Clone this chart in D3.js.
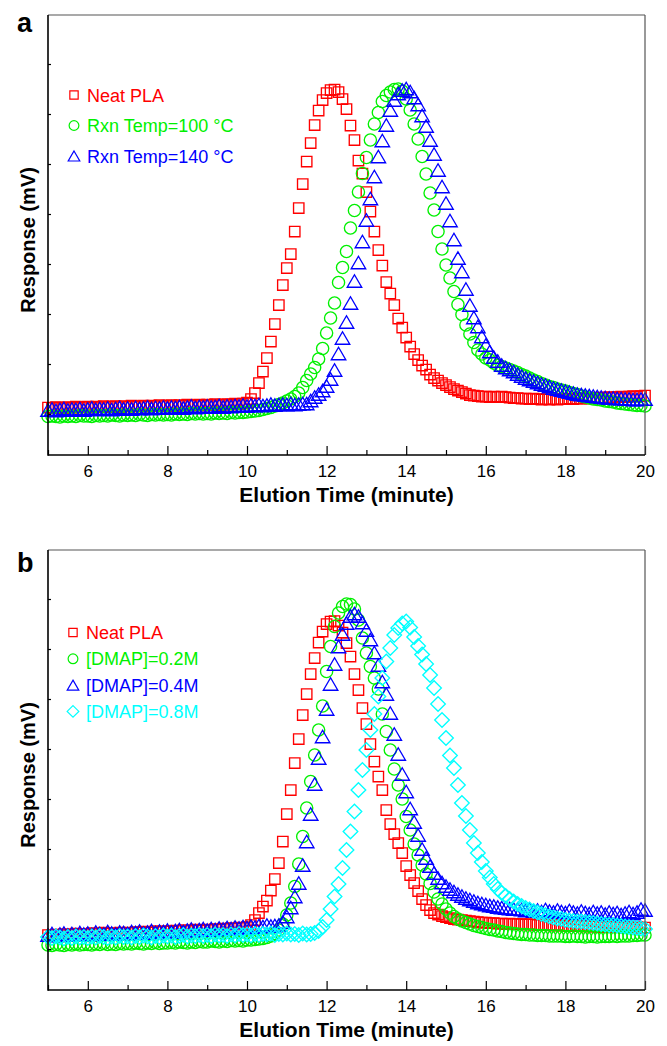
<!DOCTYPE html>
<html><head><meta charset="utf-8">
<script src="https://cdn.jsdelivr.net/npm/d3@7"></script>
<style>body{margin:0;background:#fff}svg{display:block}text{font-family:"Liberation Sans",Arial,Helvetica,sans-serif}</style>
</head><body><svg id="c" width="667" height="1046"></svg>
<script>
// Elution time (minute)
const times = [
5.0,5.1,5.2,5.3,5.4,5.5,5.6,5.7,5.8,5.9,
6.0,6.1,6.2,6.3,6.4,6.5,6.6,6.7,6.8,6.9,
7.0,7.1,7.2,7.3,7.4,7.5,7.6,7.7,7.8,7.9,
8.0,8.1,8.2,8.3,8.4,8.5,8.6,8.7,8.8,8.9,
9.0,9.1,9.2,9.3,9.4,9.5,9.6,9.7,9.8,9.9,
10.0,10.1,10.2,10.3,10.4,10.5,10.6,10.7,10.8,10.9,
11.0,11.1,11.2,11.3,11.4,11.5,11.6,11.7,11.8,11.9,
12.0,12.1,12.2,12.3,12.4,12.5,12.6,12.7,12.8,12.9,
13.0,13.1,13.2,13.3,13.4,13.5,13.6,13.7,13.8,13.9,
14.0,14.1,14.2,14.3,14.4,14.5,14.6,14.7,14.8,14.9,
15.0,15.1,15.2,15.3,15.4,15.5,15.6,15.7,15.8,15.9,
16.0,16.1,16.2,16.3,16.4,16.5,16.6,16.7,16.8,16.9,
17.0,17.1,17.2,17.3,17.4,17.5,17.6,17.7,17.8,17.9,
18.0,18.1,18.2,18.3,18.4,18.5,18.6,18.7,18.8,18.9,
19.0,19.1,19.2,19.3,19.4,19.5,19.6,19.7,19.8,19.9,
20.0];

// Panel a: response (arbitrary mV units)
const aNeatPLA = [
0.13,0.12,0.14,0.13,0.12,0.14,0.13,0.15,0.13,0.14,
0.15,0.13,0.15,0.14,0.16,0.14,0.15,0.16,0.14,0.16,
0.15,0.17,0.15,0.16,0.17,0.15,0.17,0.16,0.18,0.16,
0.17,0.18,0.16,0.18,0.17,0.19,0.17,0.18,0.19,0.17,
0.19,0.18,0.20,0.18,0.19,0.20,0.19,0.21,0.20,0.21,
0.23,0.30,0.42,0.62,0.85,1.12,1.45,1.80,2.18,2.58,
2.92,3.20,3.65,4.12,4.60,5.05,5.42,5.78,6.07,6.28,
6.42,6.48,6.49,6.44,6.30,6.10,5.77,5.48,5.07,4.81,
4.44,4.05,3.65,3.28,2.97,2.64,2.41,2.18,1.91,1.73,
1.53,1.35,1.20,1.08,0.97,0.89,0.79,0.72,0.67,0.62,
0.58,0.54,0.50,0.47,0.44,0.41,0.38,0.37,0.36,0.35,
0.35,0.34,0.35,0.34,0.35,0.34,0.33,0.32,0.32,0.31,
0.31,0.30,0.31,0.30,0.29,0.30,0.29,0.30,0.29,0.30,
0.30,0.31,0.30,0.31,0.31,0.32,0.31,0.32,0.33,0.32,
0.33,0.34,0.33,0.34,0.35,0.34,0.35,0.36,0.35,0.36,
0.37];
const aTemp100 = [
-0.05,-0.04,-0.05,-0.06,-0.04,-0.05,-0.04,-0.05,-0.03,-0.04,
-0.04,-0.05,-0.03,-0.04,-0.03,-0.04,-0.02,-0.03,-0.04,-0.02,
-0.03,-0.02,-0.03,-0.01,-0.02,-0.03,-0.01,-0.02,-0.01,-0.02,
-0.01,-0.02,0.00,-0.01,0.00,-0.01,0.01,0.00,0.01,0.00,
0.01,0.00,0.02,0.01,0.02,0.01,0.03,0.02,0.03,0.03,
0.04,0.05,0.06,0.07,0.09,0.11,0.13,0.16,0.19,0.22,
0.26,0.30,0.35,0.42,0.53,0.67,0.80,0.93,1.10,1.31,
1.62,1.92,2.22,2.63,2.93,3.25,3.72,4.07,4.44,4.81,
5.13,5.48,5.80,6.03,6.25,6.37,6.44,6.49,6.50,6.46,
6.30,6.08,5.80,5.50,5.15,4.80,4.42,4.08,3.65,3.30,
2.98,2.72,2.45,2.19,1.99,1.78,1.60,1.43,1.28,1.20,
1.12,1.08,1.02,0.97,0.95,0.92,0.89,0.86,0.83,0.79,
0.76,0.72,0.68,0.65,0.61,0.58,0.55,0.53,0.50,0.48,
0.46,0.43,0.41,0.39,0.36,0.34,0.32,0.30,0.29,0.28,
0.26,0.25,0.24,0.22,0.21,0.20,0.19,0.18,0.17,0.17,
0.16];
const aTemp140 = [
0.08,0.10,0.07,0.09,0.11,0.08,0.10,0.09,0.11,0.08,
0.10,0.12,0.09,0.11,0.10,0.12,0.09,0.11,0.13,0.10,
0.12,0.10,0.13,0.11,0.12,0.14,0.11,0.13,0.12,0.14,
0.12,0.14,0.13,0.15,0.12,0.14,0.16,0.13,0.15,0.14,
0.16,0.14,0.15,0.17,0.14,0.16,0.15,0.17,0.16,0.18,
0.16,0.18,0.17,0.19,0.17,0.18,0.20,0.18,0.19,0.20,
0.19,0.21,0.19,0.20,0.21,0.21,0.27,0.34,0.40,0.47,
0.56,0.70,0.88,1.21,1.52,1.84,2.22,2.66,3.03,3.45,
3.88,4.31,4.75,5.15,5.47,5.78,6.08,6.28,6.41,6.48,
6.51,6.45,6.33,6.19,5.97,5.76,5.48,5.20,4.88,4.55,
4.22,3.87,3.49,3.12,2.85,2.50,2.18,1.93,1.75,1.55,
1.38,1.25,1.14,1.06,0.98,0.93,0.89,0.85,0.80,0.76,
0.72,0.69,0.66,0.63,0.60,0.58,0.55,0.52,0.50,0.48,
0.46,0.44,0.42,0.40,0.39,0.38,0.37,0.36,0.35,0.34,
0.33,0.32,0.32,0.31,0.31,0.30,0.30,0.29,0.29,0.30,
0.30];

// Panel b
const bNeatPLA = [
0.28,0.27,0.29,0.28,0.30,0.28,0.29,0.31,0.29,0.30,
0.30,0.32,0.30,0.31,0.33,0.31,0.32,0.31,0.33,0.32,
0.33,0.32,0.34,0.33,0.35,0.33,0.34,0.36,0.34,0.35,
0.36,0.35,0.37,0.36,0.38,0.36,0.37,0.39,0.37,0.38,
0.39,0.38,0.40,0.39,0.41,0.40,0.42,0.41,0.43,0.42,
0.44,0.48,0.58,0.72,0.85,0.97,1.17,1.40,1.72,2.15,
2.70,3.18,3.72,4.20,4.68,5.10,5.50,5.82,6.13,6.35,
6.50,6.55,6.56,6.47,6.33,6.12,5.85,5.50,5.18,4.82,
4.50,4.10,3.75,3.45,3.18,2.78,2.50,2.30,2.12,1.92,
1.66,1.48,1.32,1.16,1.00,0.88,0.78,0.72,0.69,0.66,
0.64,0.62,0.60,0.59,0.58,0.57,0.56,0.55,0.54,0.53,
0.53,0.52,0.52,0.51,0.51,0.50,0.51,0.50,0.50,0.50,
0.49,0.50,0.49,0.48,0.49,0.48,0.48,0.47,0.48,0.47,
0.47,0.46,0.47,0.46,0.46,0.45,0.46,0.45,0.45,0.44,
0.45,0.44,0.44,0.45,0.44,0.43,0.44,0.43,0.44,0.43,
0.43];
const bDMAP02 = [
0.08,0.07,0.09,0.08,0.07,0.09,0.08,0.10,0.08,0.09,
0.09,0.08,0.10,0.09,0.11,0.09,0.10,0.09,0.11,0.10,
0.11,0.10,0.12,0.11,0.10,0.12,0.11,0.13,0.11,0.12,
0.12,0.13,0.12,0.14,0.13,0.12,0.14,0.13,0.15,0.14,
0.14,0.16,0.15,0.14,0.16,0.15,0.17,0.16,0.17,0.16,
0.18,0.18,0.19,0.20,0.21,0.23,0.26,0.31,0.38,0.50,
0.68,0.92,1.25,1.70,2.25,2.82,3.35,3.88,4.38,4.86,
5.55,6.05,6.45,6.72,6.85,6.90,6.89,6.80,6.58,6.22,
5.92,5.65,5.42,5.20,4.70,4.35,3.98,3.60,3.28,3.00,
2.65,2.38,2.10,1.88,1.68,1.50,1.31,1.14,1.00,0.90,
0.80,0.72,0.65,0.60,0.56,0.53,0.50,0.47,0.45,0.43,
0.41,0.39,0.38,0.36,0.35,0.33,0.32,0.31,0.30,0.29,
0.29,0.28,0.28,0.27,0.27,0.27,0.26,0.26,0.26,0.26,
0.25,0.25,0.26,0.25,0.25,0.24,0.25,0.25,0.24,0.25,
0.25,0.25,0.26,0.25,0.26,0.26,0.26,0.27,0.27,0.28,
0.28];
const bDMAP04 = [
0.28,0.31,0.27,0.30,0.32,0.28,0.31,0.29,0.33,0.30,
0.32,0.29,0.34,0.31,0.30,0.35,0.32,0.30,0.34,0.33,
0.31,0.35,0.33,0.36,0.32,0.34,0.37,0.33,0.36,0.35,
0.38,0.34,0.37,0.39,0.35,0.38,0.40,0.37,0.39,0.41,
0.38,0.41,0.39,0.42,0.40,0.43,0.41,0.44,0.42,0.45,
0.43,0.46,0.44,0.47,0.45,0.48,0.46,0.47,0.48,0.54,
0.65,0.83,1.05,1.32,1.68,2.15,2.70,3.30,3.82,4.25,
4.80,5.30,5.70,6.05,6.30,6.52,6.66,6.71,6.66,6.53,
6.38,6.19,5.93,5.68,5.35,5.10,4.72,4.30,3.90,3.50,
3.15,2.81,2.54,2.28,2.00,1.82,1.66,1.52,1.42,1.33,
1.26,1.20,1.15,1.10,1.06,1.02,0.99,0.96,0.93,0.91,
0.89,0.87,0.86,0.84,0.83,0.82,0.81,0.80,0.80,0.79,
0.77,0.80,0.76,0.78,0.75,0.79,0.76,0.74,0.78,0.75,
0.73,0.77,0.74,0.72,0.76,0.73,0.71,0.75,0.72,0.74,
0.70,0.74,0.71,0.73,0.69,0.72,0.75,0.71,0.74,0.80,
0.78];
const bDMAP08 = [
0.24,0.22,0.25,0.23,0.21,0.24,0.22,0.25,0.23,0.24,
0.22,0.25,0.23,0.26,0.24,0.22,0.25,0.23,0.26,0.24,
0.25,0.23,0.26,0.24,0.27,0.25,0.23,0.26,0.24,0.27,
0.25,0.27,0.24,0.26,0.28,0.25,0.27,0.26,0.28,0.26,
0.28,0.26,0.29,0.27,0.28,0.26,0.29,0.27,0.30,0.28,
0.29,0.27,0.30,0.28,0.30,0.29,0.31,0.28,0.30,0.29,
0.31,0.29,0.30,0.28,0.31,0.29,0.30,0.32,0.36,0.44,
0.58,0.80,1.05,1.30,1.62,1.98,2.35,2.75,3.18,3.58,
3.98,4.38,4.70,5.05,5.42,5.75,6.02,6.28,6.42,6.51,
6.55,6.43,6.24,6.06,5.89,5.70,5.48,5.22,4.90,4.58,
4.22,3.87,3.62,3.28,2.92,2.66,2.38,2.12,1.92,1.74,
1.56,1.43,1.30,1.20,1.12,1.06,1.00,0.95,0.90,0.86,
0.82,0.79,0.76,0.73,0.70,0.68,0.65,0.63,0.61,0.60,
0.58,0.57,0.56,0.55,0.55,0.54,0.53,0.52,0.51,0.50,
0.49,0.48,0.48,0.47,0.46,0.45,0.44,0.43,0.42,0.41,
0.40];

const xTickMajor = [6, 8, 10, 12, 14, 16, 18, 20];
const xTickMinor = [5, 7, 9, 11, 13, 15, 17, 19];
const yTicks = [0, 1, 2, 3, 4, 5, 6, 7];
const xTitle = "Elution Time (minute)";
const yTitle = "Response (mV)";
const namesA = ["Neat PLA", "Rxn Temp=100 °C", "Rxn Temp=140 °C"];
const namesB = ["Neat PLA", "[DMAP]=0.2M", "[DMAP]=0.4M", "[DMAP]=0.8M"];

const svg = d3.select("#c");
const L = 48, R = 645;
const x = d3.scaleLinear().domain([5, 20]).range([L, R]);

function markerPath(type, k) {
  if (type === "square") { const s = 10.4 * k; return `M${-s/2},${-s/2}h${s}v${s}h${-s}Z`; }
  if (type === "circle") { const r = 6.1 * k; return `M${r},0A${r},${r} 0 1,1 ${-r},0A${r},${r} 0 1,1 ${r},0Z`; }
  if (type === "triangle") { const w = 14.5 * k, h = 12.5 * k; return `M0,${-h/2}L${w/2},${h/2}L${-w/2},${h/2}Z`; }
  const d = 7.3 * k; return `M0,${-d}L${d},0L0,${d}L${-d},0Z`;
}

const panels = [
  { top: 15, bottom: 455, label: "a", labelY: 32,
    series: [
      { name: namesA[0], values: aNeatPLA, color: "#ff0000", type: "square" },
      { name: namesA[1], values: aTemp100, color: "#00f000", type: "circle" },
      { name: namesA[2], values: aTemp140, color: "#0000ff", type: "triangle" }],
    legX: 74, legY0: 95, legDy: 30.5 },
  { top: 550, bottom: 990, label: "b", labelY: 572,
    series: [
      { name: namesB[0], values: bNeatPLA, color: "#ff0000", type: "square" },
      { name: namesB[1], values: bDMAP02, color: "#00f000", type: "circle" },
      { name: namesB[2], values: bDMAP04, color: "#0000ff", type: "triangle" },
      { name: namesB[3], values: bDMAP08, color: "#00ffff", type: "diamond" }],
    legX: 73, legY0: 632.5, legDy: 26.3 }
];

panels.forEach(p => {
  const y = d3.scaleLinear().domain([-0.82, 7.98]).range([p.bottom, p.top]);
  const g = svg.append("g");

  // data markers
  p.series.forEach(s => {
    g.append("g").selectAll("path").data(times.map((t, i) => [t, s.values[i]]))
      .join("path")
      .attr("d", markerPath(s.type, 1))
      .attr("transform", d => `translate(${x(d[0])},${y(d[1])})`)
      .attr("fill", "none").attr("stroke", s.color).attr("stroke-width", 1.35);
  });

  // axes
  const axMaj = g.append("g").attr("transform", `translate(0,${p.bottom})`)
    .call(d3.axisBottom(x).tickValues(xTickMajor).tickSize(-9).tickPadding(10).tickFormat(d3.format("d")));
  axMaj.select(".domain").remove();
  axMaj.selectAll("line").attr("stroke", "#000").attr("stroke-width", 1.2);
  axMaj.selectAll("text").attr("font-size", 17).attr("fill", "#000")
    .attr("font-family", '"Liberation Sans",Arial,sans-serif');
  const axMin = g.append("g").attr("transform", `translate(0,${p.bottom})`)
    .call(d3.axisBottom(x).tickValues(xTickMinor).tickSize(-5).tickFormat(""));
  axMin.select(".domain").remove();
  axMin.selectAll("line").attr("stroke", "#000").attr("stroke-width", 1.2);
  const axY = g.append("g").attr("transform", `translate(${L},0)`)
    .call(d3.axisLeft(y).tickValues(yTicks).tickSize(-3).tickFormat(""));
  axY.select(".domain").remove();
  axY.selectAll("line").attr("stroke", "#000").attr("stroke-width", 1.2);

  // frame
  g.append("line").attr("x1", L).attr("x2", R).attr("y1", p.top).attr("y2", p.top).attr("stroke", "#555").attr("stroke-width", 1.2);
  g.append("line").attr("x1", R).attr("x2", R).attr("y1", p.top).attr("y2", p.bottom).attr("stroke", "#555").attr("stroke-width", 1.2);
  g.append("line").attr("x1", L).attr("x2", L).attr("y1", p.top).attr("y2", p.bottom + 0.7).attr("stroke", "#000").attr("stroke-width", 1.6);
  g.append("line").attr("x1", L).attr("x2", R).attr("y1", p.bottom).attr("y2", p.bottom).attr("stroke", "#000").attr("stroke-width", 1.6);

  // titles
  g.append("text").attr("x", (L + R) / 2).attr("y", p.bottom + 47).attr("text-anchor", "middle")
    .attr("font-size", 21).attr("font-weight", "bold").text(xTitle);
  g.append("text").attr("transform", `translate(35,${(p.top + p.bottom) / 2 + 5}) rotate(-90)`)
    .attr("text-anchor", "middle").attr("font-size", 20).attr("font-weight", "bold").text(yTitle);
  g.append("text").attr("x", 17).attr("y", p.labelY).attr("font-size", 27).attr("font-weight", "bold").text(p.label);

  // legend
  p.series.forEach((s, i) => {
    const cy = p.legY0 + i * p.legDy;
    g.append("path").attr("d", markerPath(s.type, 0.8)).attr("transform", `translate(${p.legX},${cy})`)
      .attr("fill", "none").attr("stroke", s.color).attr("stroke-width", 1.2);
    g.append("text").attr("x", p.legX + 13).attr("y", cy + 6.5).attr("font-size", 18)
      .attr("fill", s.color).text(s.name);
  });
});
</script></body></html>
